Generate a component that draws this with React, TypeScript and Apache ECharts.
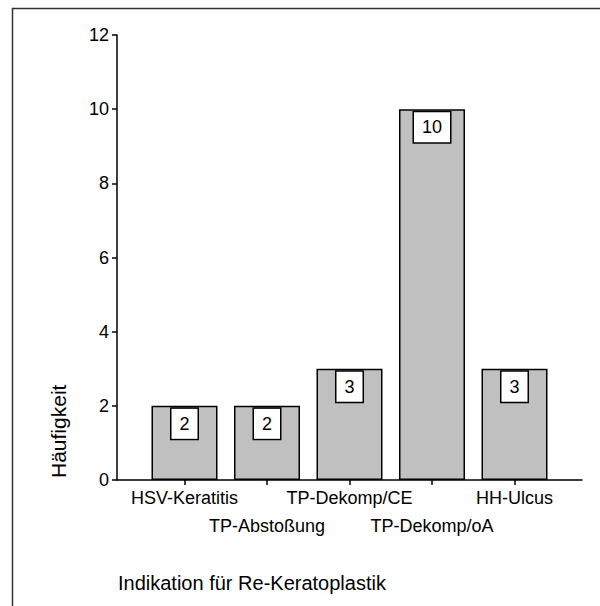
import React, { useEffect, useRef } from "react";
import * as echarts from "echarts";

const categories = [
  "HSV-Keratitis",
  "TP-Abstoßung",
  "TP-Dekomp/CE",
  "TP-Dekomp/oA",
  "HH-Ulcus",
];
const counts = [2, 2, 3, 10, 3];
const yTicks = { min: 0, max: 12, interval: 2 };
const yTitle = "Häufigkeit";
const xTitle = "Indikation für Re-Keratoplastik";

const FONT = "'Liberation Sans', Arial, Helvetica, sans-serif";

export default function App() {
  const ref = useRef<HTMLDivElement>(null);

  useEffect(() => {
    if (!ref.current) return;
    const chart = echarts.init(ref.current, null, { renderer: "svg" });
    chart.setOption({
      animation: false,
      backgroundColor: "#ffffff",
      textStyle: { fontFamily: FONT, color: "#000" },
      grid: [
        // frame holding the full-length axis lines
        { left: 117, right: 18, top: 35, height: 445 },
        // inner band area where the bars sit
        { left: 143.25, width: 412.5, top: 35, height: 445 },
      ],
      xAxis: [
        {
          gridIndex: 0,
          type: "value",
          min: 0,
          max: 1,
          axisLine: { show: true, onZero: false, lineStyle: { color: "#000", width: 1.5 } },
          axisTick: { show: false },
          axisLabel: { show: false },
          splitLine: { show: false },
        },
        {
          gridIndex: 1,
          type: "category",
          data: categories,
          boundaryGap: true,
          axisLine: { show: false },
          axisTick: {
            show: true,
            alignWithLabel: true,
            length: 5,
            lineStyle: { color: "#000", width: 1.5 },
          },
          axisLabel: {
            interval: 0,
            margin: 4,
            fontSize: 18,
            lineHeight: 28,
            color: "#000",
            fontFamily: FONT,
            formatter: (v: string, i: number) => (i % 2 === 1 ? "\n" + v : v),
          },
          splitLine: { show: false },
        },
      ],
      yAxis: [
        {
          gridIndex: 0,
          type: "value",
          min: yTicks.min,
          max: yTicks.max,
          interval: yTicks.interval,
          axisLine: { show: true, lineStyle: { color: "#000", width: 1.5 } },
          axisTick: { show: true, length: 5, lineStyle: { color: "#000", width: 1.5 } },
          axisLabel: { margin: 8, fontSize: 18, color: "#000", fontFamily: FONT },
          splitLine: { show: false },
        },
        {
          gridIndex: 1,
          type: "value",
          min: yTicks.min,
          max: yTicks.max,
          interval: yTicks.interval,
          show: false,
          splitLine: { show: false },
        },
      ],
      series: [
        {
          type: "bar",
          xAxisIndex: 1,
          yAxisIndex: 1,
          data: counts,
          barWidth: "80%",
          itemStyle: { color: "#c0c0c0", borderColor: "#000", borderWidth: 1.5 },
          label: {
            show: true,
            position: "insideTop",
            distance: 3,
            fontSize: 18,
            lineHeight: 18,
            color: "#000",
            fontFamily: FONT,
            backgroundColor: "#fff",
            borderColor: "#000",
            borderWidth: 1.5,
            padding: [6, 8],
          },
        },
      ],
      graphic: [
        {
          type: "rect",
          left: 10,
          top: 6,
          shape: { width: 600, height: 610 },
          style: { fill: "none", stroke: "#333", lineWidth: 1.5 },
          silent: true,
        },
        {
          type: "text",
          x: 58,
          y: 478,
          rotation: Math.PI / 2,
          style: {
            text: yTitle,
            font: `21px ${FONT}`,
            fill: "#000",
            textAlign: "left",
            textVerticalAlign: "middle",
          },
        },
        {
          type: "text",
          x: 118,
          y: 583,
          style: {
            text: xTitle,
            font: `20px ${FONT}`,
            fill: "#000",
            textAlign: "left",
            textVerticalAlign: "middle",
          },
        },
      ],
    });
    return () => chart.dispose();
  }, []);

  return (
    <div
      ref={ref}
      style={{ position: "fixed", left: 0, top: 0, width: 600, height: 606 }}
    />
  );
}
